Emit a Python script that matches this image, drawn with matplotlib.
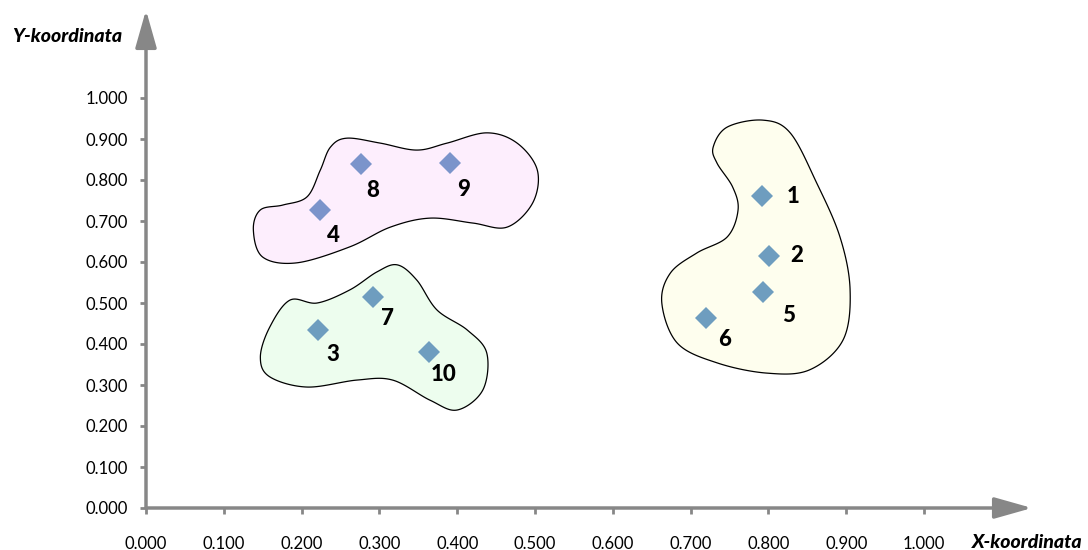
import numpy as np
import matplotlib
matplotlib.use("Agg")
import matplotlib.pyplot as plt
from matplotlib.patches import Polygon

plt.rcParams['font.family'] = ['Lato', 'DejaVu Sans']

# точки
labels = ['1', '2', '3', '4', '5', '6', '7', '8', '9', '10']
x_vals = [0.792, 0.801, 0.221, 0.224, 0.793, 0.720, 0.292, 0.276, 0.391, 0.364]
y_vals = [0.761, 0.615, 0.434, 0.727, 0.527, 0.463, 0.515, 0.839, 0.841, 0.380]
groups = ['y', 'y', 'g', 'p', 'y', 'y', 'g', 'p', 'p', 'g']

ticks = np.round(np.arange(0, 1.01, 0.1), 1)

# контуры кластеров (контрольные точки)
pink_x = [0.147, 0.176, 0.207, 0.224, 0.237, 0.258, 0.301, 0.348, 0.387, 0.438, 0.477,
          0.503, 0.497, 0.464, 0.420, 0.365, 0.314, 0.262, 0.194, 0.150, 0.138]
pink_y = [0.727, 0.739, 0.759, 0.824, 0.880, 0.902, 0.890, 0.873, 0.890, 0.915, 0.890,
          0.824, 0.744, 0.685, 0.695, 0.707, 0.685, 0.637, 0.598, 0.612, 0.678]
green_x = [0.185, 0.220, 0.262, 0.297, 0.323, 0.348, 0.374, 0.413, 0.438, 0.433, 0.400,
           0.365, 0.317, 0.271, 0.207, 0.159, 0.147, 0.159]
green_y = [0.507, 0.500, 0.532, 0.576, 0.593, 0.556, 0.483, 0.434, 0.378, 0.288, 0.239,
           0.263, 0.312, 0.312, 0.295, 0.320, 0.368, 0.441]
yellow_x = [0.729, 0.747, 0.793, 0.828, 0.862, 0.892, 0.905, 0.896, 0.853, 0.798, 0.734,
            0.683, 0.663, 0.674, 0.708, 0.747, 0.761, 0.754, 0.734]
yellow_y = [0.880, 0.929, 0.946, 0.915, 0.793, 0.661, 0.532, 0.410, 0.337, 0.329, 0.354,
            0.402, 0.500, 0.573, 0.622, 0.661, 0.727, 0.783, 0.841]

# смещения подписей (пиксели)
label_dx = [31, 28, 15, 13, 26, 18, 14, 12, 13, 14]
label_dy = [-1, 0, -24, -26, -24, -21, -22, -26, -26, -22]

point_colors = {'p': '#7b94cb', 'g': '#6e9dbf', 'y': '#6e9dbf'}
grey = '#878787'


def smooth_closed(xs, ys, n=30):
    # периодический сплайн Катмулла-Рома
    p = np.column_stack([xs, ys])
    k = len(p)
    out = []
    for i in range(k):
        p0, p1, p2, p3 = p[(i - 1) % k], p[i], p[(i + 1) % k], p[(i + 2) % k]
        t = np.linspace(0, 1, n, endpoint=False)[:, None]
        seg = 0.5 * ((2 * p1) + (-p0 + p2) * t + (2 * p0 - 5 * p1 + 4 * p2 - p3) * t ** 2
                     + (-p0 + 3 * p1 - 3 * p2 + p3) * t ** 3)
        out.append(seg)
    return np.vstack(out)


fig = plt.figure(figsize=(10.88, 5.5), dpi=100)
ax = fig.add_axes([146 / 1088, 42 / 550, 886 / 1088, 498 / 550])
ax.set_xlim(0, 886 / 778)
ax.set_ylim(0, 498 / 410)

for xs, ys, fc in [(pink_x, pink_y, '#fdeefd'), (green_x, green_y, '#edfdee'),
                   (yellow_x, yellow_y, '#fefeee')]:
    ax.add_patch(Polygon(smooth_closed(xs, ys), closed=True, facecolor=fc,
                         edgecolor='black', linewidth=0.9, zorder=1))

for xv, yv, g, lab, dx, dy in zip(x_vals, y_vals, groups, labels, label_dx, label_dy):
    ax.plot(xv, yv, marker='D', markersize=11.5, color=point_colors[g],
            markeredgewidth=0, zorder=3)
    ax.annotate(lab, (xv, yv), xytext=(dx, dy), textcoords='offset pixels',
                ha='center', va='center', fontsize=16, fontweight='black', zorder=4)

for s in ax.spines.values():
    s.set_visible(False)

# оси со стрелками
arrow = dict(arrowstyle='-|>,head_length=2.3,head_width=0.65', color=grey, lw=2.5,
             mutation_scale=10, shrinkA=0, shrinkB=0)
ax.annotate('', xy=(886 / 778, 0), xytext=(0, 0), arrowprops=arrow,
            annotation_clip=False, zorder=2)
ax.annotate('', xy=(0, 498 / 410), xytext=(0, 0), arrowprops=arrow,
            annotation_clip=False, zorder=2)

ax.set_xticks(ticks)
ax.set_yticks(ticks)
ax.set_xticklabels([f'{t:.3f}' for t in ticks])
ax.set_yticklabels([f'{t:.3f}' for t in ticks])
ax.tick_params(axis='x', direction='out', length=4, width=2, color=grey, pad=16,
               labelsize=12)
ax.tick_params(axis='y', direction='out', length=4, width=2, color=grey, pad=9,
               labelsize=12)

fig.text(67 / 1088, 1 - 37 / 550, 'Y-koordinata', ha='center', va='center',
         fontsize=14, fontweight='black', fontstyle='italic')
fig.text(1027 / 1088, 1 - 542 / 550, 'X-koordinata', ha='center', va='center',
         fontsize=14, fontweight='black', fontstyle='italic')

fig.savefig('out.png', dpi=100)
